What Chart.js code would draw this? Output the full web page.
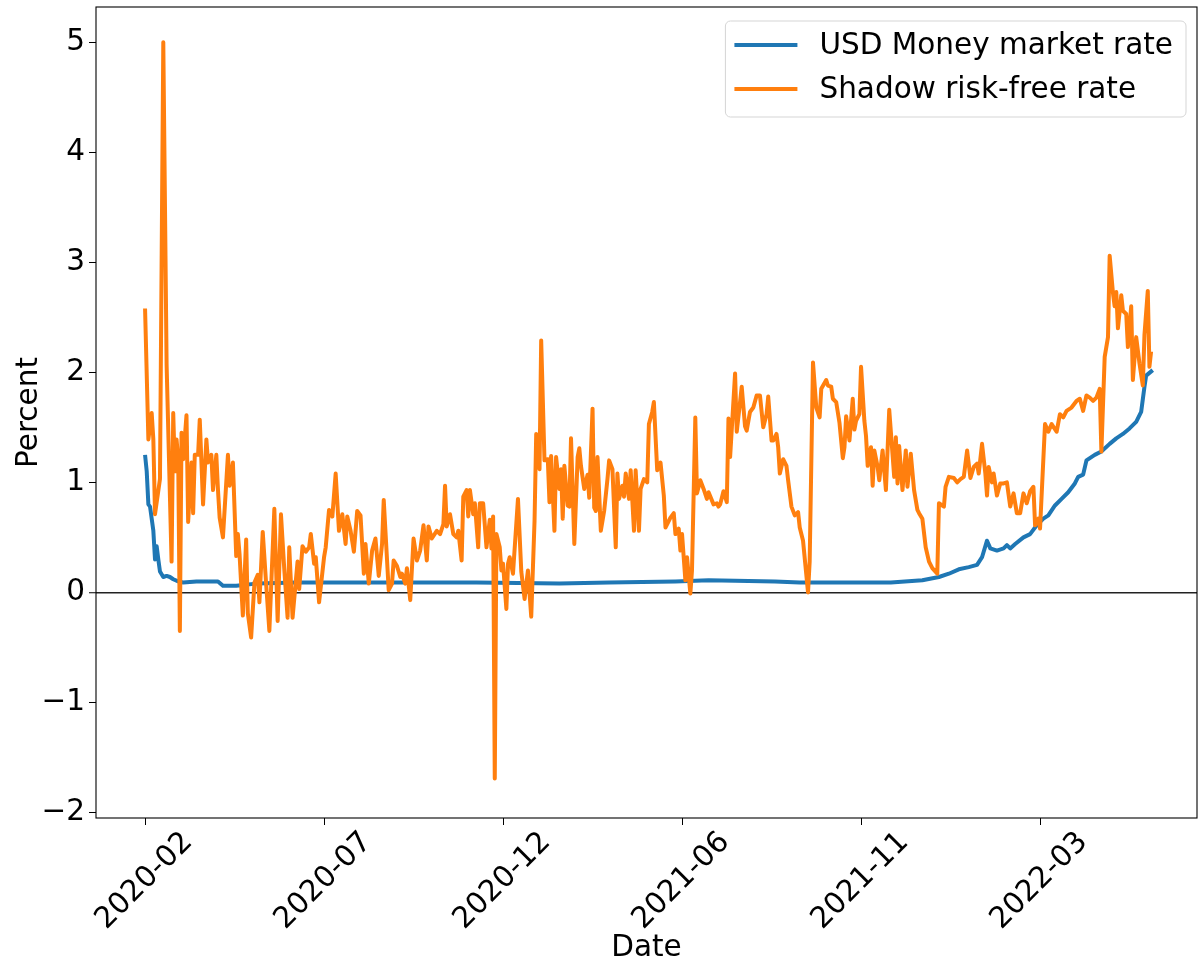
<!DOCTYPE html>
<html>
<head>
<meta charset="utf-8">
<script src="https://cdn.jsdelivr.net/npm/chart.js@4"></script>
<style>
  html, body { margin: 0; padding: 0; background: #fff; }
</style>
</head>
<body>
<canvas id="rates" width="1202" height="967"></canvas>
<script>
// x = trading-day index from the first observation (early Feb 2020)
const tickDays = [0, 108, 216, 324, 432, 540];
const tickLabels = ['2020-02', '2020-07', '2020-12', '2021-06', '2021-11', '2022-03'];
const yTicks = [-2, -1, 0, 1, 2, 3, 4, 5];

const moneyDays = [
    0, 1, 2, 3, 5, 6, 7, 8, 9, 11,
    13, 15, 17, 20, 23, 31, 44, 47, 55, 67,
    92, 112, 150, 200, 250, 280, 320, 340, 380, 395,
    420, 450, 469, 479, 485, 491, 497, 502, 505, 508,
    510, 514, 518, 520, 522, 525, 530, 534, 538, 542,
    545, 549, 553, 557, 561, 563, 566, 568, 573, 577,
    582, 586, 590, 594, 598, 601, 603, 604, 608
];
const moneyRate = [
    1.25, 1.10, 0.80, 0.78, 0.56, 0.30, 0.42, 0.30, 0.19, 0.14,
    0.15, 0.14, 0.12, 0.10, 0.09, 0.10, 0.10, 0.06, 0.06, 0.08,
    0.09, 0.09, 0.09, 0.09, 0.08, 0.09, 0.10, 0.11, 0.10, 0.09,
    0.09, 0.09, 0.11, 0.14, 0.17, 0.21, 0.23, 0.25, 0.32, 0.47,
    0.40, 0.38, 0.40, 0.43, 0.40, 0.44, 0.50, 0.53, 0.61, 0.67,
    0.70, 0.79, 0.85, 0.91, 0.99, 1.05, 1.07, 1.20, 1.25, 1.28,
    1.35, 1.40, 1.44, 1.49, 1.55, 1.64, 1.87, 1.97, 2.02
];

const shadowDays = [
    // 2020 H1
    0, 2, 4, 5, 6, 9, 11, 13, 16, 17,
    18, 19, 20, 21, 22, 23, 25, 26, 28, 29,
    30, 32, 33, 35, 37, 38, 40, 41, 43, 44,
    45, 47, 50, 51, 53, 55, 56, 57, 59, 61,
    62, 64, 66, 68, 69, 71, 73, 75, 78, 80,
    82, 84, 86, 87, 89, 92, 93, 95, 97, 99,
    100, 102, 103, 105,
    // 2020 H2
    108, 109, 111, 113, 115, 117, 119, 121, 122, 124,
    126, 128, 130, 132, 133, 135, 137, 139, 141, 143,
    144, 147, 149, 150, 152, 154, 155, 157, 158, 160,
    162, 164, 166, 168, 170, 171, 173, 176, 178, 180,
    181, 182, 184, 186, 188, 189, 191, 192, 194, 195,
    196, 198, 199, 201, 202, 204, 206, 208, 209, 210,
    211, 212, 214, 215, 216, 218, 219,
    // 2021 H1
    220, 222, 225, 227, 229, 231, 233, 235, 236, 238,
    239, 241, 243, 244, 245, 247, 248, 250, 251, 252,
    253, 255, 256, 257, 259, 261, 262, 263, 265, 267,
    268, 270, 271, 272, 273, 275, 277, 279, 280, 282,
    284, 285, 286, 288, 289, 290, 292, 293, 295, 296,
    298, 299, 301, 303, 304, 306, 307, 309, 311, 313,
    314, 317, 319, 320, 322, 323, 324, 326, 327, 329,
    330, 332, 333,
    // 2021 H2
    335, 337, 339, 340, 343, 345, 346, 347, 349, 351,
    352, 353, 356, 357, 359, 360, 362, 363, 365, 367,
    369, 371, 373, 375, 376, 378, 379, 381, 382, 383,
    385, 387, 388, 390, 392, 394, 395, 397, 400, 401,
    403, 405, 407, 408, 411, 412, 414, 415, 417, 419,
    421, 422, 423, 425, 427, 428, 429, 431, 432, 434,
    435, 436, 438, 439, 440, 442, 443, 445, 447, 449,
    // 2021-12 .. 2022-03
    452, 453, 454, 455, 457, 459, 460, 462, 464, 466,
    467, 469, 471, 473, 475, 478, 479, 482, 483, 485,
    488, 490, 492, 494, 496, 498, 500, 502, 503, 505,
    507, 508, 509, 511, 512, 514, 516, 518, 520, 522,
    524, 526, 528, 530, 532, 534, 536, 537, 539, 540,
    // 2022
    543, 545, 547, 550, 552, 554, 556, 559, 562, 564,
    566, 568, 570, 572, 574, 576, 577, 579, 581, 582,
    584, 585, 586, 587, 589, 590, 592, 593, 595, 596,
    598, 600, 602, 603, 605, 606, 607
];
const shadowRate = [
    2.58, 1.39, 1.63, 1.39, 0.71, 1.03, 5.00, 2.07, 0.28, 1.63,
    1.10, 1.39, 1.21, -0.35, 1.45, 1.21, 1.61, 0.64, 1.18, 0.72,
    1.25, 1.25, 1.57, 0.80, 1.39, 1.18, 1.25, 0.93, 1.25, 0.93,
    0.68, 0.50, 1.25, 0.97, 1.18, 0.33, 0.53, 0.35, -0.21, 0.48,
    -0.19, -0.41, 0.09, 0.16, -0.09, 0.55, 0.09, -0.35, 0.76, -0.26,
    0.71, 0.21, -0.23, 0.41, -0.23, 0.28, 0.03, 0.42, 0.37, 0.41,
    0.53, 0.26, 0.32, -0.09,

    0.32, 0.41, 0.75, 0.69, 1.08, 0.56, 0.71, 0.44, 0.69, 0.56,
    0.37, 0.74, 0.70, 0.17, 0.44, 0.08, 0.38, 0.49, 0.15, 0.44,
    0.84, 0.02, 0.08, 0.29, 0.24, 0.14, 0.17, 0.08, 0.22, -0.07,
    0.49, 0.29, 0.38, 0.61, 0.29, 0.60, 0.49, 0.56, 0.53, 0.62,
    0.97, 0.60, 0.71, 0.53, 0.50, 0.56, 0.29, 0.87, 0.93, 0.69,
    0.93, 0.71, 0.81, 0.41, 0.81, 0.81, 0.41, 0.66, 0.40, 0.69,
    -1.69, 0.53, 0.41, 0.20, 0.26, -0.15, 0.26,

    0.32, 0.17, 0.85, 0.19, -0.06, 0.20, -0.22, 0.65, 1.44, 1.12,
    2.29, 1.20, 1.21, 0.82, 1.24, 0.56, 1.23, 0.94, 1.12, 0.67,
    1.15, 0.79, 0.78, 1.40, 0.44, 1.23, 1.31, 1.15, 0.94, 1.07,
    0.86, 1.67, 0.77, 0.74, 1.23, 0.56, 0.74, 1.03, 1.20, 1.12,
    0.41, 1.08, 0.85, 0.97, 0.87, 1.08, 0.85, 1.11, 0.56, 1.11,
    0.56, 0.94, 1.03, 1.00, 1.53, 1.64, 1.73, 1.11, 1.18, 0.88,
    0.59, 0.68, 0.72, 0.53, 0.58, 0.38, 0.53, 0.11, 0.32, -0.01,
    0.20, 1.59, 0.90,

    1.02, 0.94, 0.85, 0.91, 0.80, 0.81, 0.78, 0.80, 0.92, 0.82,
    1.58, 1.23, 1.99, 1.46, 1.73, 1.87, 1.51, 1.47, 1.64, 1.68,
    1.79, 1.79, 1.50, 1.62, 1.78, 1.38, 1.38, 1.44, 1.32, 1.08,
    1.21, 1.15, 1.02, 0.78, 0.70, 0.73, 0.59, 0.47, 0.00, 0.28,
    2.09, 1.68, 1.59, 1.85, 1.93, 1.88, 1.87, 1.76, 1.73, 1.54,
    1.22, 1.32, 1.60, 1.38, 1.76, 1.48, 1.56, 1.62, 2.05, 1.56,
    1.42, 1.15, 1.32, 0.97, 1.29, 1.14, 1.02, 1.29, 0.93, 1.66,

    1.05, 1.41, 0.99, 1.33, 0.93, 1.29, 0.96, 1.26, 0.93, 0.75,
    0.72, 0.67, 0.41, 0.28, 0.22, 0.17, 0.81, 0.78, 0.96, 1.05,
    1.04, 1.00, 1.03, 1.05, 1.29, 1.04, 1.14, 1.17, 1.08, 1.35,
    1.08, 0.88, 1.14, 1.00, 1.08, 0.88, 0.99, 0.99, 1.00, 0.78,
    0.90, 0.72, 0.72, 0.90, 0.81, 0.92, 0.96, 0.61, 0.67, 0.58,

    1.53, 1.46, 1.53, 1.46, 1.62, 1.59, 1.65, 1.68, 1.74, 1.76,
    1.65, 1.79, 1.77, 1.74, 1.77, 1.85, 1.28, 2.14, 2.32, 3.06,
    2.72, 2.60, 2.73, 2.40, 2.70, 2.56, 2.53, 2.23, 2.60, 1.93,
    2.32, 2.08, 1.88, 2.34, 2.74, 2.05, 2.19
];

const FONT = 'DejaVu Sans';
const FS = 29.5;

// box round the plot, like the matplotlib spines
const framePlugin = {
    id: 'frame',
    afterDatasetsDraw(chart) {
        const { ctx, chartArea: a } = chart;
        ctx.save();
        ctx.strokeStyle = '#000';
        ctx.lineWidth = 1.1;
        ctx.strokeRect(a.left, a.top, a.right - a.left, a.bottom - a.top);
        ctx.restore();
    }
};

// legend drawn inside the axes, upper right
const legendPlugin = {
    id: 'insideLegend',
    afterDraw(chart) {
        const { ctx, chartArea: a } = chart;
        const sets = chart.data.datasets;
        ctx.save();
        ctx.font = `${FS}px "${FONT}"`;
        const textW = Math.max(...sets.map(s => ctx.measureText(s.label).width));
        const lineLen = 63, padL = 9, gap = 22, padR = 13, rowH = 44;
        const w = padL + lineLen + gap + textW + padR;
        const h = 96;
        const x = a.right - 11 - w;
        const y = a.top + 14;

        ctx.beginPath();
        ctx.roundRect(x, y, w, h, 5);
        ctx.fillStyle = 'rgba(255,255,255,0.8)';
        ctx.fill();
        ctx.strokeStyle = '#d5d5d5';
        ctx.lineWidth = 1;
        ctx.stroke();

        sets.forEach((s, i) => {
            const cy = y + 24 + i * rowH;
            ctx.beginPath();
            ctx.moveTo(x + padL, cy);
            ctx.lineTo(x + padL + lineLen, cy);
            ctx.strokeStyle = s.borderColor;
            ctx.lineWidth = 4;
            ctx.stroke();
            ctx.fillStyle = '#000';
            ctx.textBaseline = 'middle';
            ctx.fillText(s.label, x + padL + lineLen + gap, cy + 1);
        });
        ctx.restore();
    }
};

const toPoints = (xs, ys) => xs.map((d, i) => ({ x: d, y: ys[i] }));

new Chart(document.getElementById('rates'), {
    type: 'line',
    data: {
        datasets: [{
            label: 'USD Money market rate',
            data: toPoints(moneyDays, moneyRate),
            borderColor: '#1f77b4',
            borderWidth: 4,
            order: 2
        }, {
            label: 'Shadow risk-free rate',
            data: toPoints(shadowDays, shadowRate),
            borderColor: '#ff7f0e',
            borderWidth: 4,
            order: 1
        }]
    },
    options: {
        responsive: false,
        animation: false,
        layout: { padding: { top: 7, right: 5, left: 0, bottom: 0 } },
        elements: {
            point: { radius: 0 },
            line: { tension: 0, borderJoinStyle: 'round' }
        },
        plugins: {
            legend: { display: false },
            tooltip: { enabled: false }
        },
        scales: {
            x: {
                type: 'linear',
                min: -29.6,
                max: 634.7,
                afterBuildTicks: axis => { axis.ticks = tickDays.map(v => ({ value: v })); },
                afterFit: axis => { axis.height = 149; },
                grid: { drawOnChartArea: false, tickLength: 7, tickColor: '#000', tickWidth: 1 },
                border: { display: false },
                ticks: {
                    autoSkip: false,
                    minRotation: 45,
                    maxRotation: 45,
                    labelOffset: 43,
                    padding: 0,
                    color: '#000',
                    font: { family: FONT, size: FS },
                    callback: (v, i) => tickLabels[i]
                },
                title: {
                    display: true,
                    text: 'Date',
                    color: '#000',
                    font: { family: FONT, size: FS },
                    padding: { top: 0, bottom: 1 }
                }
            },
            y: {
                min: -2.05,
                max: 5.32,
                afterBuildTicks: axis => { axis.ticks = yTicks.map(v => ({ value: v })); },
                afterFit: axis => {
                    axis.width = 96;
                    axis.paddingTop = 0;
                    axis.paddingBottom = 0;
                },
                grid: {
                    drawOnChartArea: true,
                    color: c => (c.tick && c.tick.value === 0) ? '#222' : 'rgba(0,0,0,0)',
                    lineWidth: c => (c.tick && c.tick.value === 0) ? 1.5 : 1,
                    tickLength: 7,
                    tickColor: '#000',
                    tickWidth: 1
                },
                border: { display: false },
                ticks: {
                    padding: 4,
                    color: '#000',
                    font: { family: FONT, size: FS },
                    callback: v => v < 0 ? '\u2212' + Math.abs(v) : String(v)
                },
                title: {
                    display: true,
                    text: 'Percent',
                    color: '#000',
                    font: { family: FONT, size: FS },
                    padding: { top: 12, bottom: 0 }
                }
            }
        }
    },
    plugins: [framePlugin, legendPlugin]
});
</script>
</body>
</html>
